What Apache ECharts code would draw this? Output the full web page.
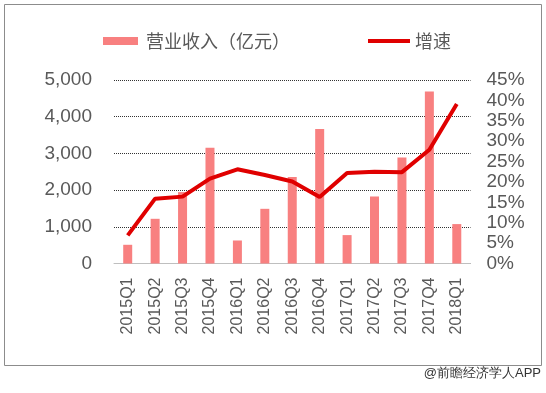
<!DOCTYPE html>
<html>
<head>
<meta charset="utf-8">
<script src="https://cdn.jsdelivr.net/npm/echarts@6/dist/echarts.min.js"></script>
<style>
html,body{margin:0;padding:0;background:#fff;}
#c{width:546px;height:393px;}
</style>
</head>
<body>
<div id="c"></div>
<script>
const categories = ['2015Q1','2015Q2','2015Q3','2015Q4','2016Q1','2016Q2','2016Q3','2016Q4','2017Q1','2017Q2','2017Q3','2017Q4','2018Q1'];
const revenue = [510, 1218, 1945, 3153, 627, 1490, 2354, 3662, 774, 1826, 2889, 4687, 1074];
const growth = [0.069, 0.159, 0.164, 0.208, 0.231, 0.217, 0.201, 0.163, 0.222, 0.225, 0.224, 0.279, 0.391];
const leftTicks = [0, 1000, 2000, 3000, 4000, 5000];
const rightTicks = [0, 0.05, 0.10, 0.15, 0.20, 0.25, 0.30, 0.35, 0.40, 0.45];
const seriesNames = ['营业收入（亿元）', '增速'];
const footer = '@前瞻经济学人APP';

const FONT = '"Liberation Sans", Arial, "Noto Sans CJK SC", sans-serif';
const chart = echarts.init(document.getElementById('c'), null, {renderer: 'canvas'});
chart.setOption({
  animation: false,
  backgroundColor: '#fff',
  textStyle: {fontFamily: FONT},
  grid: {left: 114, right: 75.5, top: 80, bottom: 129.5, containLabel: false},
  legend: [
    {data: [seriesNames[0]], left: 103, top: 32, padding: 0, itemWidth: 35, itemHeight: 8, icon: 'rect',
     textStyle: {fontSize: 18, color: '#595959', fontFamily: '"Noto Sans CJK SC", sans-serif', padding: [0,0,0,3]}},
    {data: [seriesNames[1]], left: 368, top: 32, padding: 0, itemWidth: 42, itemHeight: 4, icon: 'rect',
     textStyle: {fontSize: 18, color: '#595959', fontFamily: '"Noto Sans CJK SC", sans-serif', padding: [0,0,0,0]}}
  ],
  xAxis: {
    type: 'category', data: categories,
    axisLine: {lineStyle: {color: '#BFBFBF', width: 1}},
    axisTick: {show: false},
    axisLabel: {rotate: 90, fontSize: 16, color: '#595959', margin: 14, interval: 0, fontFamily: FONT}
  },
  yAxis: [
    {type: 'value', min: leftTicks[0], max: leftTicks[leftTicks.length-1], interval: 1000,
     axisLine: {show: false}, axisTick: {show: false},
     splitLine: {lineStyle: {color: '#333', type: 'dotted', width: 1}},
     axisLabel: {fontSize: 19, color: '#595959', margin: 22, fontFamily: FONT,
       formatter: v => v.toLocaleString('en-US')}},
    {type: 'value', min: rightTicks[0], max: rightTicks[rightTicks.length-1], interval: 0.05,
     alignTicks: false,
     axisLine: {show: false}, axisTick: {show: false}, splitLine: {show: false},
     axisLabel: {fontSize: 19, color: '#595959', margin: 16, fontFamily: FONT,
       formatter: v => Math.round(v * 100) + '%'}}
  ],
  series: [
    {name: seriesNames[0], type: 'bar', data: revenue, yAxisIndex: 0, barWidth: 9,
     itemStyle: {color: '#F88080'}},
    {name: seriesNames[1], type: 'line', data: growth, yAxisIndex: 1, symbol: 'none',
     lineStyle: {color: '#E00000', width: 4}, itemStyle: {color: '#E00000'}, z: 5}
  ],
  graphic: [
    {type: 'rect', shape: {x: 4.5, y: 4.5, width: 537, height: 361}, style: {fill: null, stroke: '#8C8C8C', lineWidth: 1}, silent: true},
    {type: 'text', right: 5, top: 367, style: {text: footer, fontSize: 13, fill: '#333', font: '13px "Noto Sans CJK SC", sans-serif'}}
  ]
});
</script>
</body>
</html>
